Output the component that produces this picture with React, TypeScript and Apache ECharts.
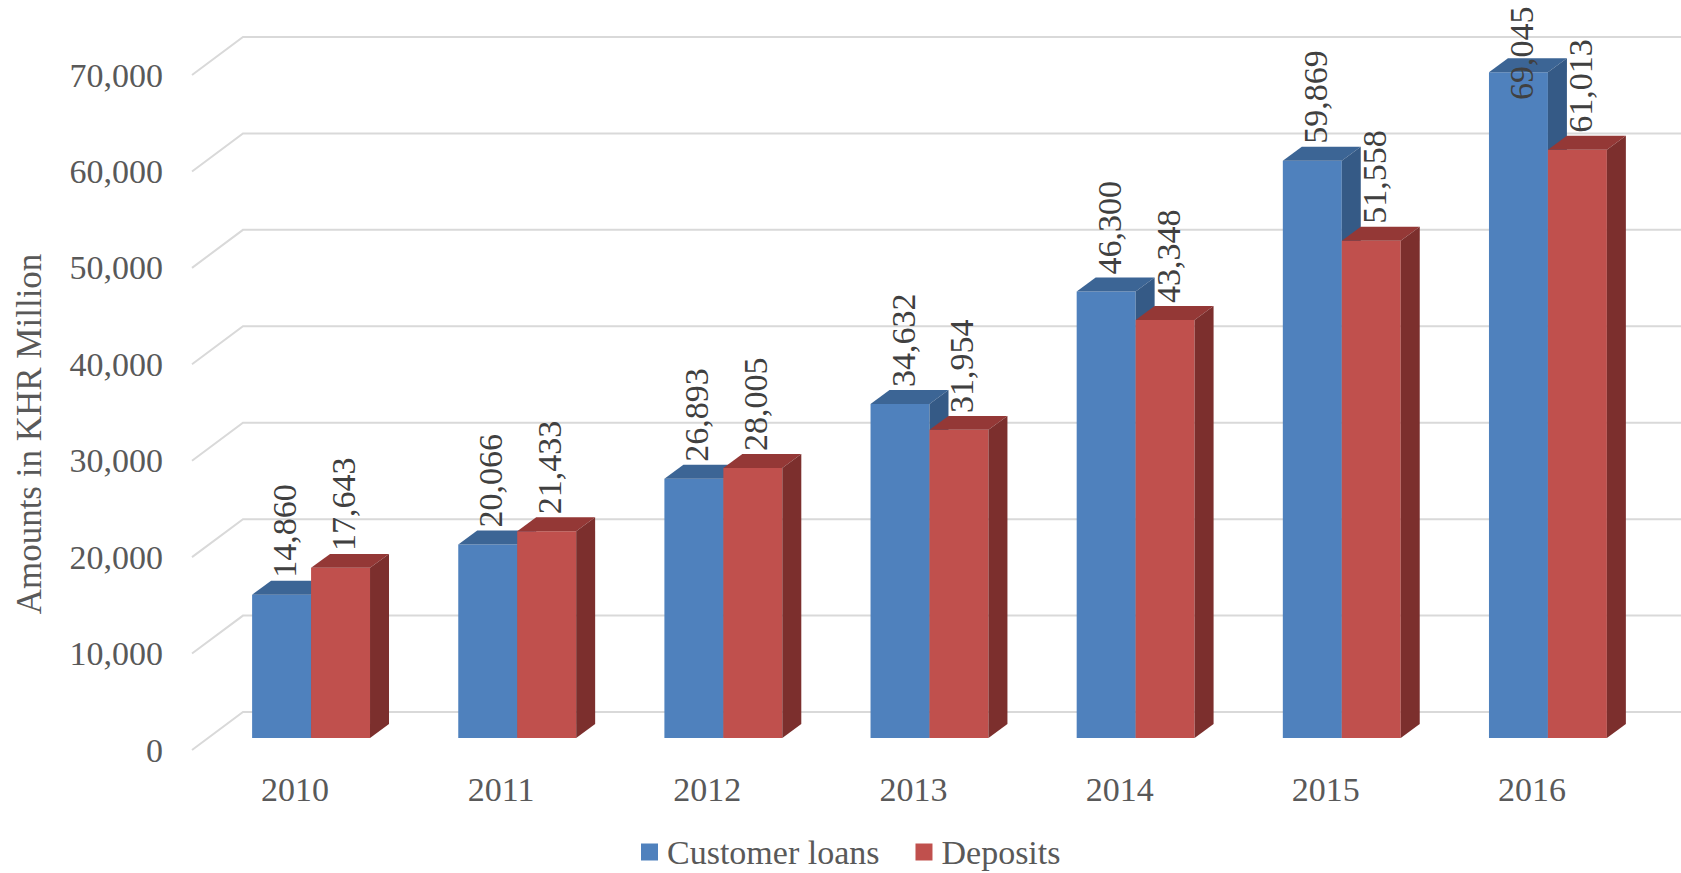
import React, { useEffect, useRef } from "react";
import * as echarts from "echarts";

const years = ["2010", "2011", "2012", "2013", "2014", "2015", "2016"];
const customerLoans = [14860, 20066, 26893, 34632, 46300, 59869, 69045];
const deposits = [17643, 21433, 28005, 31954, 43348, 51558, 61013];
const yTicks = [0, 10000, 20000, 30000, 40000, 50000, 60000, 70000];

const FONT = "Liberation Serif";
const TEXT = "#595959";

// 3D geometry as fractions of the category width
const BACK_DX = 0.2473;
const BACK_DY = 0.1843;
const FRONT_DX = 0.0776;
const FRONT_DY = 0.0582;
const DEPTH_DX = 0.0921;
const DEPTH_DY = 0.0679;
const BAR_W = 0.286;

const fmt = (v: number) => Math.round(v).toLocaleString("en-US");

function barRenderer(side: number, front: string, top: string, sideColor: string) {
  return (params: any, api: any) => {
    const ci = api.value(0);
    const v = api.value(1);
    const w = api.size([1, 0])[0];
    const p = api.coord([ci, v]);
    const base = api.coord([ci, 0]);
    const bw = w * BAR_W;
    const fdx = w * FRONT_DX, fdy = w * FRONT_DY;
    const ddx = w * DEPTH_DX, ddy = w * DEPTH_DY;
    const x0 = p[0] + fdx + (side === 0 ? -bw : 0);
    const x1 = x0 + bw;
    const yTop = p[1] - fdy;
    const yBase = base[1] - fdy;
    return {
      type: "group",
      children: [
        {
          type: "polygon",
          shape: { points: [[x0, yTop], [x1, yTop], [x1, yBase], [x0, yBase]] },
          style: { fill: front },
        },
        {
          type: "polygon",
          shape: { points: [[x0, yTop], [x1, yTop], [x1 + ddx, yTop - ddy], [x0 + ddx, yTop - ddy]] },
          style: { fill: top },
        },
        {
          type: "polygon",
          shape: { points: [[x1, yTop], [x1 + ddx, yTop - ddy], [x1 + ddx, yBase - ddy], [x1, yBase]] },
          style: { fill: sideColor },
        },
      ],
    };
  };
}

const titleGraphic = {
  type: "text",
  x: 29,
  y: 434,
  rotation: Math.PI / 2,
  style: {
    text: "Amounts in KHR Million",
    x: 0,
    y: 0,
    align: "center",
    verticalAlign: "middle",
    fill: TEXT,
    fontFamily: FONT,
    fontSize: 35,
  },
};

export default function App() {
  const ref = useRef<HTMLDivElement>(null);
  useEffect(() => {
    if (!ref.current) return;
    const chart = echarts.init(ref.current, null, { renderer: "svg" });
    chart.setOption({
      animation: false,
      backgroundColor: "#ffffff",
      textStyle: { fontFamily: FONT },
      grid: { left: 192, right: 46, top: 75, bottom: 123, containLabel: false },
      legend: {
        left: 636,
        top: 830,
        icon: "rect",
        itemWidth: 17,
        itemHeight: 17,
        itemGap: 36,
        textStyle: { fontFamily: FONT, fontSize: 34, color: TEXT, padding: [0, 0, 0, 4] },
        data: ["Customer loans", "Deposits"],
      },
      graphic: [titleGraphic],
      xAxis: {
        type: "category",
        data: years,
        axisLine: { show: false },
        axisTick: { show: false },
        splitLine: { show: false },
        axisLabel: { fontFamily: FONT, fontSize: 34, color: TEXT, margin: 22 },
      },
      yAxis: {
        type: "value",
        min: 0,
        max: 70000,
        interval: 10000,
        axisLine: { show: false },
        axisTick: { show: false },
        splitLine: { show: false },
        axisLabel: {
          fontFamily: FONT,
          fontSize: 34,
          color: TEXT,
          margin: 29,
          formatter: (v: number) => fmt(v),
        },
      },
      series: [
        {
          type: "custom",
          name: "grid",
          z: 1,
          silent: true,
          clip: false,
          data: yTicks.map((v) => [0, v]),
          encode: { x: 0, y: 1 },
          renderItem: (params: any, api: any) => {
            const w = api.size([1, 0])[0];
            const y = api.coord([0, api.value(1)])[1];
            const x = params.coordSys.x;
            const bdx = w * BACK_DX, bdy = w * BACK_DY;
            return {
              type: "polyline",
              shape: { points: [[x, y], [x + bdx, y - bdy], [api.getWidth() + 10, y - bdy]] },
              style: { stroke: "#d9d9d9", lineWidth: 2, fill: "none" },
            };
          },
        },
        {
          type: "custom",
          name: "Customer loans",
          z: 2,
          clip: false,
          itemStyle: { color: "#4F81BD" },
          data: customerLoans.map((v, i) => [i, v]),
          encode: { x: 0, y: 1 },
          renderItem: barRenderer(0, "#4F81BD", "#3C6595", "#355A86"),
        },
        {
          type: "custom",
          name: "Deposits",
          z: 2,
          clip: false,
          itemStyle: { color: "#C0504D" },
          data: deposits.map((v, i) => [i, v]),
          encode: { x: 0, y: 1 },
          renderItem: barRenderer(1, "#C0504D", "#943836", "#7C2F2D"),
        },
      ],
    });

    // value labels, positioned through the grid's own scales
    const toPx = (i: number, v: number) => chart.convertToPixel({ gridIndex: 0 }, [i, v]) as number[];
    const w = toPx(1, 0)[0] - toPx(0, 0)[0];
    const bw = w * BAR_W;
    const labels: any[] = [];
    [customerLoans, deposits].forEach((arr, s) => {
      arr.forEach((v, i) => {
        const p = toPx(i, v);
        const x0 = p[0] + w * FRONT_DX + (s === 0 ? -bw : 0);
        const yTop = p[1] - w * FRONT_DY;
        const labelLen = 94;
        let lb = yTop - w * DEPTH_DY - 3;
        if (lb - labelLen < 6) lb = 6 + labelLen;
        labels.push({
          type: "text",
          x: x0 + bw / 2 + 3,
          y: lb,
          rotation: Math.PI / 2,
          z: 100,
          style: {
            text: fmt(v),
            x: 0,
            y: 0,
            align: "left",
            verticalAlign: "middle",
            fill: "#404040",
            fontFamily: FONT,
            fontSize: 34,
          },
        });
      });
    });
    chart.setOption({ graphic: [titleGraphic, ...labels] });

    return () => chart.dispose();
  }, []);
  return (
    <div
      ref={ref}
      style={{ position: "fixed", left: 0, top: 0, width: 1681, height: 873 }}
    />
  );
}
